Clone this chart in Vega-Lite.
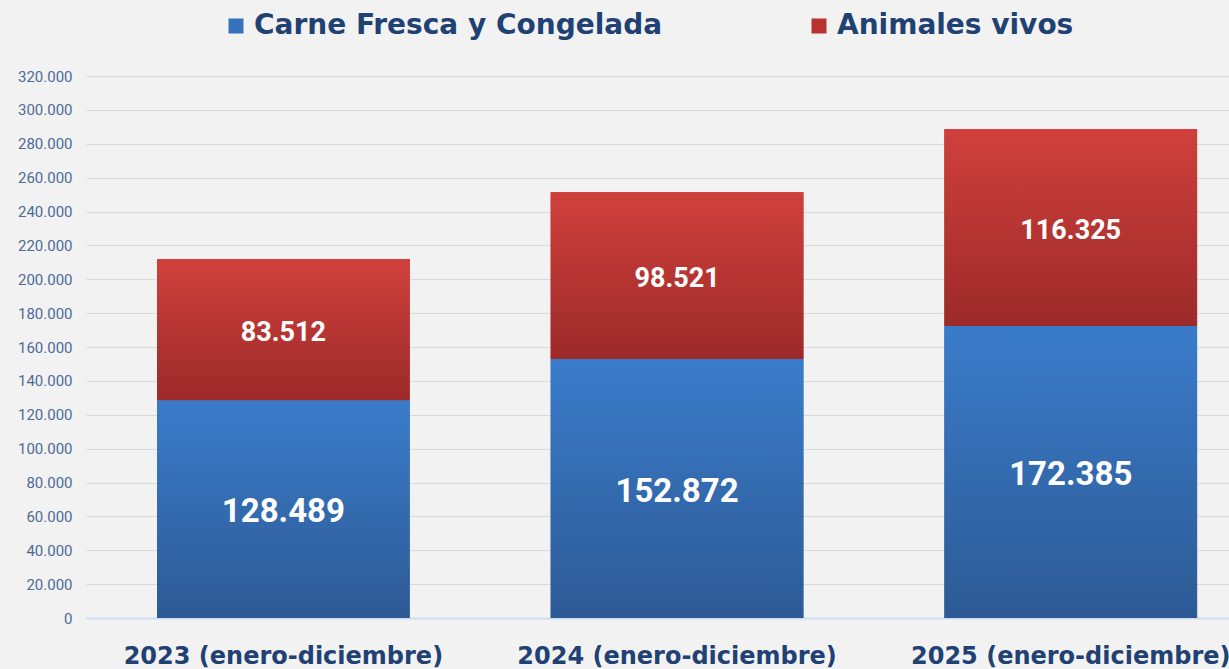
{
  "$schema": "https://vega.github.io/schema/vega-lite/v6.json",
  "width": 1143,
  "height": 542,
  "autosize": "none",
  "padding": {"left": 86, "top": 76, "right": 0, "bottom": 51},
  "background": "#f2f2f2",
  "config": {
    "view": {"stroke": null},
    "locale": {"number": {"decimal": ",", "thousands": ".", "grouping": [3], "currency": ["", ""]}},
    "axisY": {
      "labelFont": "Roboto", "labelFontSize": 15, "labelColor": "#4D6A97",
      "labelPadding": 14, "ticks": false, "domain": false, "labelOverlap": false,
      "gridColor": "#d9d9d9", "gridWidth": 1, "title": null
    }
  },
  "data": {
    "values": [
      {"year": "2023 (enero-diciembre)", "series": "Carne Fresca y Congelada", "order": 1, "value": 128489},
      {"year": "2023 (enero-diciembre)", "series": "Animales vivos", "order": 2, "value": 83512},
      {"year": "2024 (enero-diciembre)", "series": "Carne Fresca y Congelada", "order": 1, "value": 152872},
      {"year": "2024 (enero-diciembre)", "series": "Animales vivos", "order": 2, "value": 98521},
      {"year": "2025 (enero-diciembre)", "series": "Carne Fresca y Congelada", "order": 1, "value": 172385},
      {"year": "2025 (enero-diciembre)", "series": "Animales vivos", "order": 2, "value": 116325}
    ]
  },
  "transform": [
    {"stack": "value", "groupby": ["year"], "sort": [{"field": "order", "order": "ascending"}], "as": ["v0", "v1"]}
  ],
  "encoding": {
    "x": {
      "field": "year", "type": "nominal", "sort": null, "title": null,
      "scale": {"paddingInner": 0.358, "paddingOuter": 0.1307, "align": 0.69},
      "axis": {
        "labelAngle": 0, "labelFont": "DejaVu Sans", "labelFontWeight": "bold", "labelFontSize": 24,
        "labelColor": "#1F4173", "labelPadding": 26, "ticks": false, "labelLimit": 500, "labelOverlap": false,
        "domainColor": "#c9dcf2", "domainWidth": 2, "grid": false
      }
    }
  },
  "layer": [
    {
      "mark": {"type": "bar"},
      "encoding": {
        "y": {
          "field": "v0", "type": "quantitative", "title": null,
          "scale": {"domain": [0, 320000], "nice": false},
          "axis": {"values": [0, 20000, 40000, 60000, 80000, 100000, 120000, 140000, 160000, 180000, 200000, 220000, 240000, 260000, 280000, 300000, 320000], "format": ",d"}
        },
        "y2": {"field": "v1"},
        "color": {
          "field": "series", "type": "nominal",
          "scale": {"domain": ["Carne Fresca y Congelada", "Animales vivos"], "range": ["#3672BC", "#B8332F"]},
          "legend": {
            "title": null, "orient": "none", "direction": "horizontal", "legendX": 136, "legendY": -64,
            "symbolType": "square", "symbolSize": 225, "symbolStrokeWidth": 0, "symbolOffset": 0,
            "labelFont": "DejaVu Sans", "labelFontWeight": "bold", "labelFontSize": 28, "labelColor": "#1F4173",
            "labelOffset": 4, "columnPadding": 142, "labelLimit": 600
          }
        }
      }
    },
    {
      "transform": [{"filter": "datum.series == 'Carne Fresca y Congelada'"}],
      "mark": {
        "type": "bar",
        "color": {"gradient": "linear", "x1": 0, "y1": 0, "x2": 0, "y2": 1,
          "stops": [{"offset": 0, "color": "#3A7CCA"}, {"offset": 1, "color": "#2D5A95"}]}
      },
      "encoding": {
        "y": {"field": "v0", "type": "quantitative", "title": null,
          "axis": {"values": [0, 20000, 40000, 60000, 80000, 100000, 120000, 140000, 160000, 180000, 200000, 220000, 240000, 260000, 280000, 300000, 320000], "format": ",d"}},
        "y2": {"field": "v1"}
      }
    },
    {
      "transform": [{"filter": "datum.series == 'Animales vivos'"}],
      "mark": {
        "type": "bar",
        "color": {"gradient": "linear", "x1": 0, "y1": 0, "x2": 0, "y2": 1,
          "stops": [{"offset": 0, "color": "#D0403C"}, {"offset": 1, "color": "#9C2A29"}]}
      },
      "encoding": {
        "y": {"field": "v0", "type": "quantitative", "title": null,
          "axis": {"values": [0, 20000, 40000, 60000, 80000, 100000, 120000, 140000, 160000, 180000, 200000, 220000, 240000, 260000, 280000, 300000, 320000], "format": ",d"}},
        "y2": {"field": "v1"}
      }
    },
    {
      "transform": [
        {"filter": "datum.series == 'Carne Fresca y Congelada'"},
        {"calculate": "(datum.v0 + datum.v1) / 2", "as": "mid"}
      ],
      "mark": {"type": "text", "font": "Roboto", "fontWeight": "bold", "fontSize": 33, "color": "white", "baseline": "middle", "dy": 3},
      "encoding": {
        "y": {"field": "mid", "type": "quantitative", "title": null,
          "axis": {"values": [0, 20000, 40000, 60000, 80000, 100000, 120000, 140000, 160000, 180000, 200000, 220000, 240000, 260000, 280000, 300000, 320000], "format": ",d"}},
        "text": {"field": "value", "type": "quantitative", "format": ",d"}
      }
    },
    {
      "transform": [
        {"filter": "datum.series == 'Animales vivos'"},
        {"calculate": "(datum.v0 + datum.v1) / 2", "as": "mid"}
      ],
      "mark": {"type": "text", "font": "Roboto", "fontWeight": "bold", "fontSize": 27, "color": "white", "baseline": "middle", "dy": 3},
      "encoding": {
        "y": {"field": "mid", "type": "quantitative", "title": null,
          "axis": {"values": [0, 20000, 40000, 60000, 80000, 100000, 120000, 140000, 160000, 180000, 200000, 220000, 240000, 260000, 280000, 300000, 320000], "format": ",d"}},
        "text": {"field": "value", "type": "quantitative", "format": ",d"}
      }
    }
  ]
}
